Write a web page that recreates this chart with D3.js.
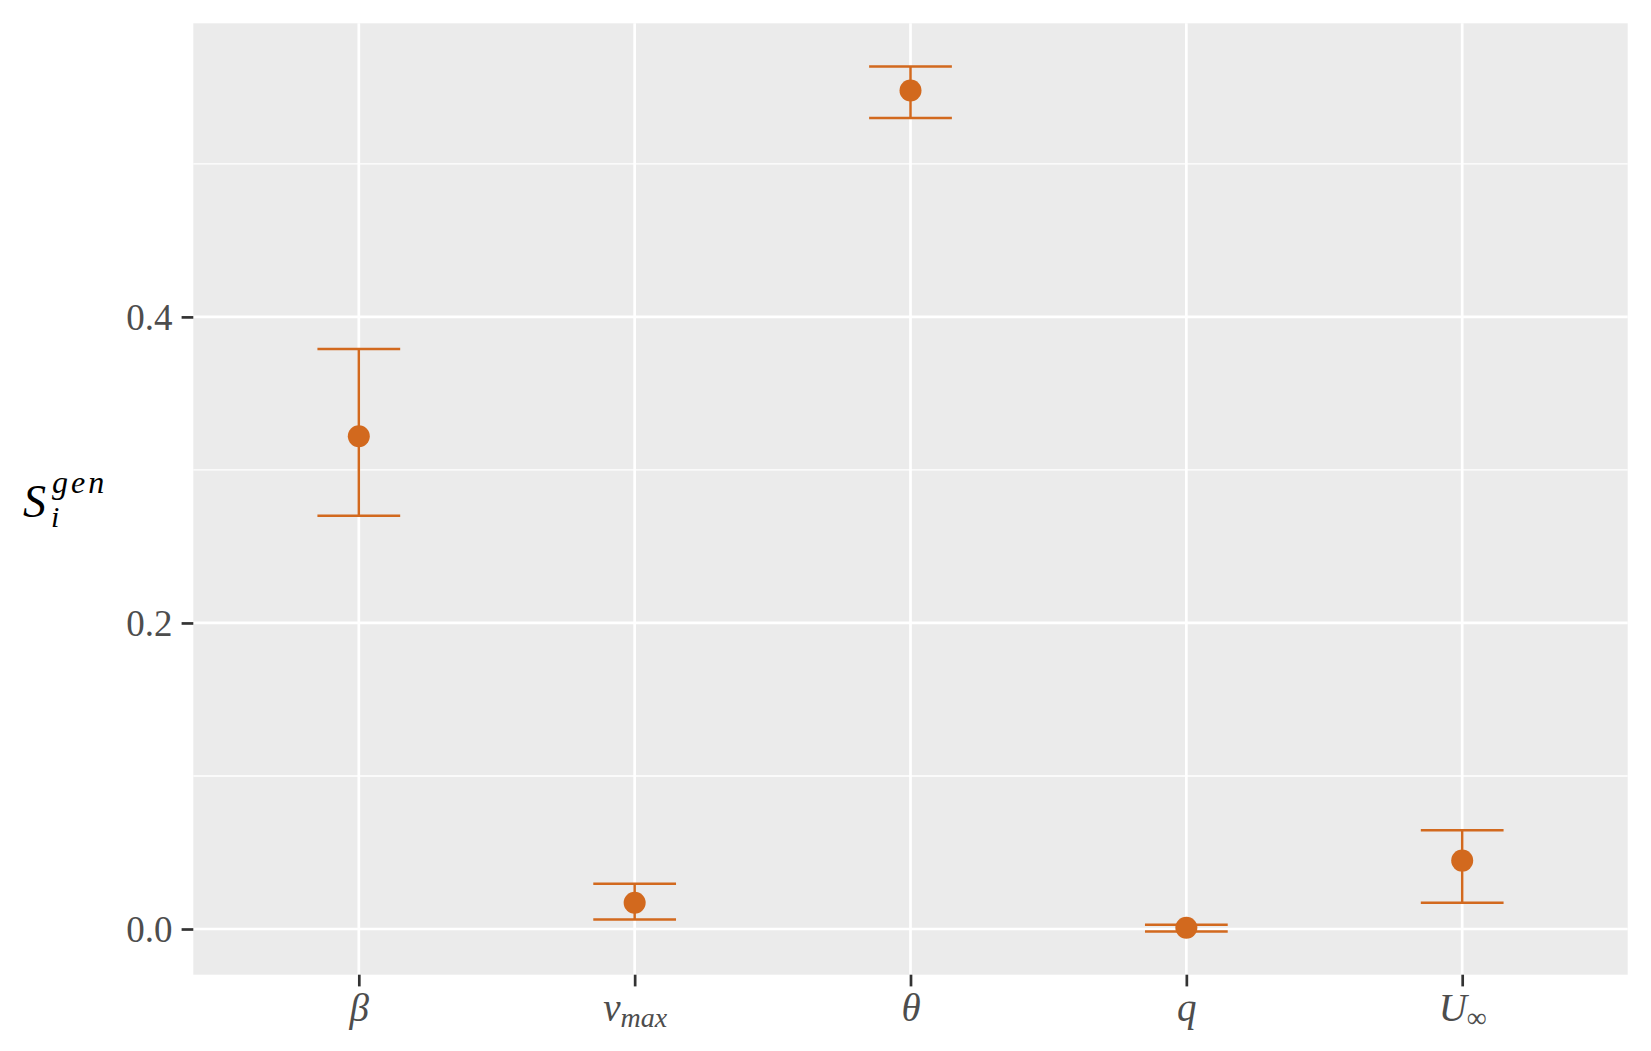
<!DOCTYPE html>
<html>
<head>
<meta charset="utf-8">
<script src="https://cdn.jsdelivr.net/npm/d3@7"></script>
<style>
  body { margin: 0; background: #fff; }
  text { font-family: "Liberation Serif", "DejaVu Serif", serif; }
</style>
</head>
<body>
<div id="chart"></div>
<script>
// parameters on the x axis
var params = ["beta", "numax", "theta", "q", "Uinf"];
// generalised sensitivity index, with lower/upper ends of the error bars
var sGen  = [0.322, 0.0172, 0.548, 0.0008, 0.0447];
var sLow  = [0.270, 0.0062, 0.530, -0.0016, 0.0172];
var sHigh = [0.379, 0.0296, 0.5636, 0.0027, 0.0646];
var majorTicks = [0, 0.2, 0.4];
var minorTicks = [0.1, 0.3, 0.5];
var majorLabels = ["0.0", "0.2", "0.4"];

// how each tick label is drawn: main glyph + optional subscript
var tickLabels = {
  beta:  { main: "\u03B2", sub: "" },
  numax: { main: "\u03BD", sub: "max" },
  theta: { main: "\u03B8", sub: "" },
  q:     { main: "q", sub: "" },
  Uinf:  { main: "U", sub: "\u221E", subUpright: true }
};

var width = 1651, height = 1051;
var margin = { top: 23.3, right: 23.3, bottom: 76.3, left: 193.3 };
var pw = width - margin.left - margin.right,
    ph = height - margin.top - margin.bottom;
var orange = "#D2691E";

var data = params.map(function(p, i) {
  return { key: p, y: sGen[i], lo: sLow[i], hi: sHigh[i] };
});

var svg = d3.select("#chart").append("svg")
    .attr("width", width)
    .attr("height", height);

var g = svg.append("g")
    .attr("transform", "translate(" + margin.left + "," + margin.top + ")");

var x = d3.scalePoint()
    .domain(params)
    .range([0, pw])
    .padding(0.6);

// ggplot-like 5% expansion of the data range
var yMin = d3.min(sLow), yMax = d3.max(sHigh);
var pad = (yMax - yMin) * 0.05;
var y = d3.scaleLinear()
    .domain([yMin - pad, yMax + pad])
    .range([ph, 0]);

g.append("rect")
    .attr("width", pw)
    .attr("height", ph)
    .attr("fill", "#EBEBEB");

g.selectAll(".minor")
    .data(minorTicks)
    .enter().append("line")
    .attr("class", "minor")
    .attr("x1", 0).attr("x2", pw)
    .attr("y1", function(d) { return y(d); })
    .attr("y2", function(d) { return y(d); })
    .attr("stroke", "#fff")
    .attr("stroke-width", 1.3);

g.selectAll(".majorY")
    .data(majorTicks)
    .enter().append("line")
    .attr("class", "majorY")
    .attr("x1", 0).attr("x2", pw)
    .attr("y1", function(d) { return y(d); })
    .attr("y2", function(d) { return y(d); })
    .attr("stroke", "#fff")
    .attr("stroke-width", 2.7);

g.selectAll(".majorX")
    .data(params)
    .enter().append("line")
    .attr("class", "majorX")
    .attr("x1", function(d) { return x(d); })
    .attr("x2", function(d) { return x(d); })
    .attr("y1", 0).attr("y2", ph)
    .attr("stroke", "#fff")
    .attr("stroke-width", 2.7);

// axes
var yAxis = d3.axisLeft(y)
    .tickValues(majorTicks)
    .tickFormat(function(d, i) { return majorLabels[i]; })
    .tickSize(11.7)
    .tickPadding(9);

var yg = g.append("g").call(yAxis);
yg.select(".domain").remove();
yg.selectAll(".tick line").attr("stroke", "#333").attr("stroke-width", 2.7);
yg.selectAll(".tick text")
    .attr("fill", "#4D4D4D")
    .attr("font-size", 37)
    .attr("dy", "0.35em");

var xAxis = d3.axisBottom(x)
    .tickSize(11.7)
    .tickFormat("");

var xg = g.append("g")
    .attr("transform", "translate(0," + ph + ")")
    .call(xAxis);
xg.select(".domain").remove();
xg.selectAll(".tick line").attr("stroke", "#333").attr("stroke-width", 2.7);

xg.selectAll(".tick").each(function(d) {
  var lab = tickLabels[d];
  var t = d3.select(this).append("text")
      .attr("y", 46)
      .attr("text-anchor", "middle")
      .attr("fill", "#4D4D4D")
      .attr("font-size", 39)
      .attr("font-style", "italic");
  t.append("tspan").text(lab.main);
  if (lab.sub) {
    t.append("tspan")
        .attr("font-size", 28)
        .attr("dy", 6)
        .attr("font-style", lab.subUpright ? "normal" : "italic")
        .text(lab.sub);
  }
});

// error bars
var capHalf = x.step() * 0.15;

var bars = g.selectAll(".err")
    .data(data)
    .enter().append("g")
    .attr("class", "err")
    .attr("stroke", orange)
    .attr("stroke-width", 2.5);

bars.append("line")
    .attr("x1", function(d) { return x(d.key); })
    .attr("x2", function(d) { return x(d.key); })
    .attr("y1", function(d) { return y(d.lo); })
    .attr("y2", function(d) { return y(d.hi); });

bars.append("line")
    .attr("x1", function(d) { return x(d.key) - capHalf; })
    .attr("x2", function(d) { return x(d.key) + capHalf; })
    .attr("y1", function(d) { return y(d.hi); })
    .attr("y2", function(d) { return y(d.hi); });

bars.append("line")
    .attr("x1", function(d) { return x(d.key) - capHalf; })
    .attr("x2", function(d) { return x(d.key) + capHalf; })
    .attr("y1", function(d) { return y(d.lo); })
    .attr("y2", function(d) { return y(d.lo); });

g.selectAll(".pt")
    .data(data)
    .enter().append("circle")
    .attr("class", "pt")
    .attr("cx", function(d) { return x(d.key); })
    .attr("cy", function(d) { return y(d.y); })
    .attr("r", 11)
    .attr("fill", orange);

// y axis title: S_i^{gen}
var title = svg.append("g")
    .attr("font-style", "italic")
    .attr("fill", "#000");

title.append("text")
    .attr("x", 23)
    .attr("y", 517)
    .attr("font-size", 46)
    .text("S");
title.append("text")
    .attr("x", 52)
    .attr("y", 493)
    .attr("font-size", 32)
    .attr("letter-spacing", 3)
    .text("gen");
title.append("text")
    .attr("x", 51)
    .attr("y", 527)
    .attr("font-size", 30)
    .text("i");
</script>
</body>
</html>
